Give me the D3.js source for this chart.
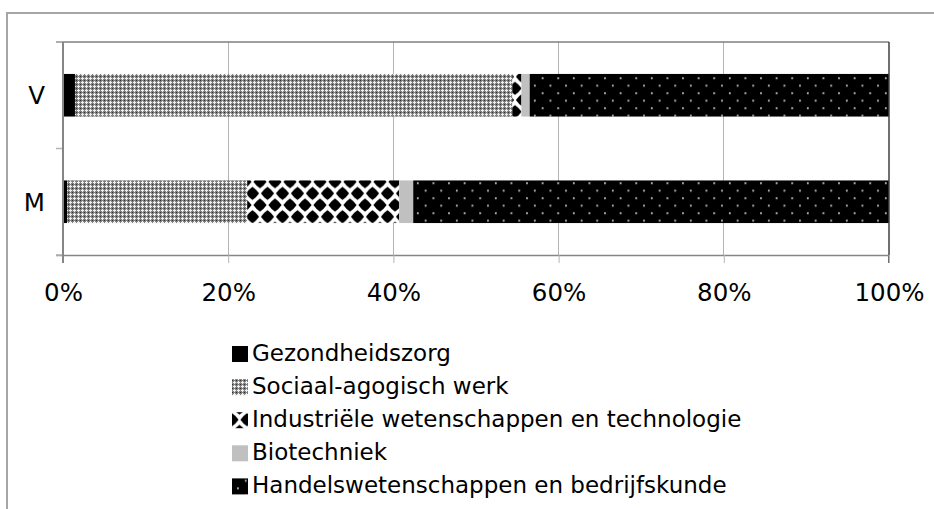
<!DOCTYPE html>
<html><head><meta charset="utf-8">
<script src="https://cdn.jsdelivr.net/npm/d3@7"></script>
<style>body{margin:0;background:#fff;} svg{display:block;}</style>
</head><body>
<svg id="c" width="934" height="509"></svg>
<script>
const categories = ["V", "M"];
const seriesNames = ["Gezondheidszorg", "Sociaal-agogisch werk", "Industriële wetenschappen en technologie", "Biotechniek", "Handelswetenschappen en bedrijfskunde"];
const gezondheidszorg = [1.45, 0.5];
const sociaal = [52.95, 21.8];
const industrie = [1.1, 18.4];
const biotechniek = [1.0, 1.7];
const handels = [43.5, 57.6];
const xTicks = [0, 0.2, 0.4, 0.6, 0.8, 1.0];

(function () {
const seriesValues = [gezondheidszorg, sociaal, industrie, biotechniek, handels];
const rows = categories.map((c, i) => {
  const o = {cat: c};
  seriesNames.forEach((s, j) => o[s] = seriesValues[j][i]);
  return o;
});

const svg = d3.select("#c");
const defs = svg.append("defs");

// Sociaal pattern (fine grey lattice with white crosses)
const pS = defs.append("pattern").attr("id", "pSoc").attr("patternUnits", "userSpaceOnUse").attr("width", 4).attr("height", 4);
pS.append("rect").attr("width", 4).attr("height", 4).attr("fill", "#808080");
[[2,1],[1,2],[2,2],[3,2],[2,3]].forEach(([a,b]) => pS.append("rect").attr("x", a).attr("y", b).attr("width", 1).attr("height", 1).attr("fill", "#f0f0f0"));
pS.append("rect").attr("x", 0).attr("y", 0).attr("width", 1).attr("height", 1).attr("fill", "#303030");

// Industriële pattern (large diamonds)
const TW = 15, TH = 23.34;
const dia = (cx, cy, r) => {
  const k = 0.6;
  return `M${cx},${cy - r}Q${cx + r*k},${cy - r*k} ${cx + r},${cy}Q${cx + r*k},${cy + r*k} ${cx},${cy + r}Q${cx - r*k},${cy + r*k} ${cx - r},${cy}Q${cx - r*k},${cy - r*k} ${cx},${cy - r}Z`;
};
function indPattern(id, ox, oy) {
  const p = defs.append("pattern").attr("id", id).attr("patternUnits", "userSpaceOnUse")
    .attr("width", TW).attr("height", TH).attr("x", ox).attr("y", oy);
  p.append("rect").attr("width", TW).attr("height", TH).attr("fill", "#fff");
  [[0,0],[TW,0],[0,TH],[TW,TH],[TW/2,TH/2]].forEach(([a,b]) => p.append("path").attr("d", dia(a, b, 6.6)).attr("fill", "#000"));
}
indPattern("pInd", 5, 181.7 % TH);

// Handels pattern (black with sparse dots)
function hanPattern(id, ox, oy) {
  const p = defs.append("pattern").attr("id", id).attr("patternUnits", "userSpaceOnUse").attr("width", 15.6).attr("height", 15).attr("x", ox).attr("y", oy);
  p.append("rect").attr("width", 15.6).attr("height", 15).attr("fill", "#000");
  p.append("rect").attr("x", 0).attr("y", 0).attr("width", 1.8).attr("height", 1.8).attr("fill", "#c4c4c4");
  p.append("rect").attr("x", 7.8).attr("y", 7.5).attr("width", 1.8).attr("height", 1.8).attr("fill", "#c4c4c4");
}
hanPattern("pHan", 869.3 % 15.6, 77.3 % 15);

const fills = ["#000000", "url(#pSoc)", "url(#pInd)", "#c0c0c0", "url(#pHan)"];

// outer border (only left/top visible)
svg.append("path").attr("d", "M7,509V13H934").attr("fill", "none").attr("stroke", "#a6a6a6").attr("stroke-width", 2);

const pl = 63, pr = 889, pt = 42, pb = 255;
const x = d3.scaleLinear().domain([0, 1]).range([pl, pr]);
const y = d3.scaleBand().domain(categories).range([pt, pb]).paddingInner(0.6).paddingOuter(0.3);

// gridlines
svg.append("g").selectAll("line").data(xTicks.slice(1, -1)).join("line")
  .attr("x1", d => x(d)).attr("x2", d => x(d)).attr("y1", pt).attr("y2", pb)
  .attr("stroke", "#b4b4b4").attr("stroke-width", 1).attr("shape-rendering", "crispEdges");

// stacked bars
const stack = d3.stack().keys(seriesNames).offset(d3.stackOffsetExpand);
const stacked = stack(rows);
svg.append("g").selectAll("g").data(stacked).join("g")
  .attr("fill", (d, i) => fills[i])
  .selectAll("rect").data(d => d).join("rect")
  .attr("x", d => x(d[0])).attr("width", d => x(d[1]) - x(d[0]))
  .attr("y", d => y(d.data.cat)).attr("height", y.bandwidth());

// plot top line
svg.append("line").attr("x1", pl - 7).attr("x2", pr).attr("y1", pt).attr("y2", pt)
  .attr("stroke", "#7f7f7f").attr("stroke-width", 1.5);
// right line
svg.append("line").attr("x1", pr).attr("x2", pr).attr("y1", pt).attr("y2", pb + 8)
  .attr("stroke", "#404040").attr("stroke-width", 1.5);

// x axis
const xAxis = d3.axisBottom(x).tickValues(xTicks).tickFormat(d3.format(".0%")).tickSize(8).tickPadding(14);
const gx = svg.append("g").attr("transform", `translate(0,${pb})`).call(xAxis);
gx.select(".domain").attr("stroke", "#868686").attr("stroke-width", 1.5).attr("d", `M${pl - 7},0.5H${pr}`);
gx.selectAll(".tick line").attr("stroke", "#b4b4b4");
gx.selectAll("text").attr("y", 45.6).attr("dy", null)
  .attr("font-family", "'DejaVu Sans', Verdana, sans-serif").attr("font-size", 24.5).attr("fill", "#000");

// y axis
const yEdges = [pt, (pt + pb) / 2, pb];
svg.append("g").selectAll("line").data(yEdges).join("line")
  .attr("x1", pl - 7).attr("x2", pl).attr("y1", d => d).attr("y2", d => d)
  .attr("stroke", "#b4b4b4").attr("stroke-width", 1.5);
svg.append("line").attr("x1", pl).attr("x2", pl).attr("y1", pt).attr("y2", pb + 8)
  .attr("stroke", "#868686").attr("stroke-width", 2);
svg.append("g").selectAll("text").data(categories).join("text")
  .attr("x", 45).attr("y", d => y(d) + y.bandwidth() / 2).attr("dy", "0.36em")
  .attr("text-anchor", "end").attr("font-family", "'DejaVu Sans', Verdana, sans-serif").attr("font-size", 24.5).attr("fill", "#000")
  .text(d => d);

// legend
const lx = 232, ly0 = 361, lstep = 33.1, box = 16;
indPattern("pIndL", lx, ly0 + 2 * lstep - box / 2 + 0.5);
hanPattern("pHanL", lx + 5, ly0 + 4 * lstep - 6);
const legendFills = ["#000000", "url(#pSoc)", "url(#pIndL)", "#c0c0c0", "url(#pHanL)"];
const lg = svg.append("g");
const items = lg.selectAll("g").data(seriesNames).join("g");
items.append("rect").attr("x", lx).attr("y", (d, i) => ly0 + i * lstep - box + 1).attr("width", box).attr("height", box)
  .attr("fill", (d, i) => legendFills[i]);
items.append("text").attr("x", lx + 20).attr("y", (d, i) => ly0 + i * lstep)
  .attr("font-family", "'DejaVu Sans', Verdana, sans-serif").attr("font-size", 23).attr("fill", "#000")
  .text(d => d);
})();
</script>
</body></html>
